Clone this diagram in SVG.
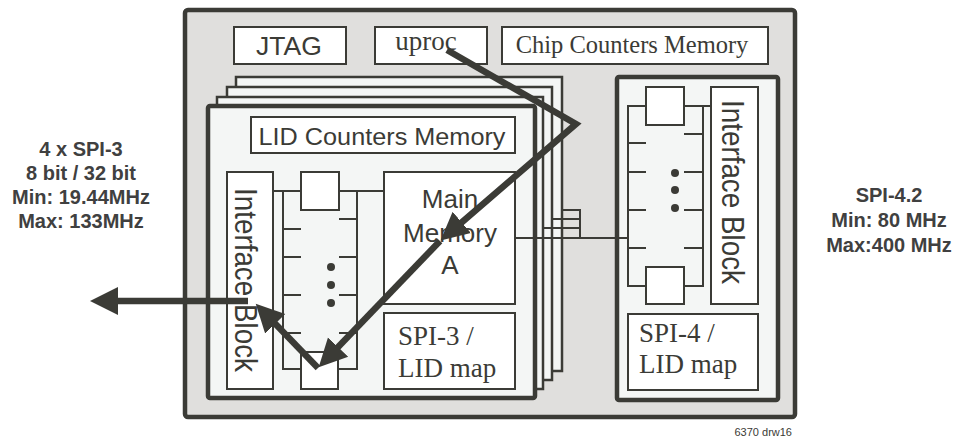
<svg xmlns="http://www.w3.org/2000/svg" width="956" height="438" viewBox="0 0 956 438">
<style>
.ln{fill:none;stroke:#3b3b36;stroke-width:2}
.bx{fill:#ffffff;stroke:#3b3b36;stroke-width:2}
.layer{fill:#f4f6f5;stroke:#3b3b36;stroke-width:2.5}
.thick{fill:#f4f6f5;stroke:#3b3b36;stroke-width:4.5}
.sans{font-family:"Liberation Sans",Arial,sans-serif;fill:#3b3b36}
.serif{font-family:"Liberation Serif","Times New Roman",serif;fill:#3b3b36}
.lbl{font-family:"Liberation Sans",Arial,sans-serif;font-weight:bold;font-size:20px;fill:#404040;text-anchor:middle}
.arr{fill:none;stroke:#3b3b36;stroke-width:6.5;stroke-linejoin:miter;marker-end:url(#ah)}
.dot{fill:#3b3b36}
</style>
<defs>
<marker id="ah" markerUnits="userSpaceOnUse" markerWidth="30" markerHeight="30" viewBox="0 -15 30 30" refX="1" refY="0" orient="auto">
<path d="M0,-14 L28,0 L0,14 z" fill="#3b3b36"/>
</marker>
</defs>
<rect width="956" height="438" fill="#ffffff"/>

<g id="chip">
<rect x="185" y="10" width="610" height="407" rx="3" fill="#e0dfdd" stroke="#3b3b36" stroke-width="4.5"/>
</g>

<g id="jtag">
<rect class="bx" x="234" y="27" width="112" height="37"/>
<text class="sans" x="289" y="55" font-size="26.5" text-anchor="middle">JTAG</text>
</g>
<g id="uproc">
<rect class="bx" x="375" y="27" width="112" height="37"/>
<text class="serif" x="426" y="50" font-size="27" text-anchor="middle">uproc</text>
</g>
<g id="chip-counters">
<rect class="bx" x="502" y="27" width="266" height="37"/>
<text class="serif" x="632" y="53" font-size="24.5" text-anchor="middle">Chip Counters Memory</text>
</g>

<g id="lid-layers-back">
<rect class="layer" x="236" y="77" width="326" height="294"/>
<rect class="layer" x="227" y="87" width="325" height="293"/>
<rect class="layer" x="217" y="97" width="326" height="292"/>
</g>

<g id="lid-block">
<rect class="thick" x="208" y="106" width="327" height="292" rx="2"/>
</g>
<g id="lid-counters">
<rect class="bx" x="251" y="117" width="264" height="36"/>
<text class="sans" x="382" y="145" font-size="24" text-anchor="middle" textLength="247" lengthAdjust="spacingAndGlyphs">LID Counters Memory</text>
</g>
<g id="interface-left">
<rect class="bx" x="227" y="172" width="46" height="217"/>
<text class="sans" font-size="32" text-anchor="middle" textLength="184" lengthAdjust="spacingAndGlyphs" transform="translate(235,280) rotate(90)">Interface Block</text>
</g>
<g id="rails-left">
<path class="ln" d="M273,191 H384 M283,191 V369 H301 M357,191 V369 H338"/>
<path class="ln" d="M283,229 H301 M283,257 H301 M283,295 H301 M283,333 H301 M339,219 H357 M339,257 H357 M339,295 H357 M339,333 H357"/>
<rect class="bx" x="301" y="172" width="38" height="38"/>
<rect class="bx" x="301" y="352" width="37" height="37"/>
<circle class="dot" cx="331" cy="267" r="4"/>
<circle class="dot" cx="331" cy="285" r="4"/>
<circle class="dot" cx="331" cy="303" r="4"/>
</g>
<g id="main-memory">
<rect class="bx" x="384" y="172" width="131" height="132"/>
<text class="sans" x="450" y="208" font-size="26" text-anchor="middle">Main</text>
<text class="sans" x="450" y="242" font-size="26" text-anchor="middle">Memory</text>
<text class="sans" x="450" y="274" font-size="26" text-anchor="middle">A</text>
</g>
<g id="spi3-map">
<rect class="bx" x="384" y="313" width="131" height="76"/>
<text class="serif" x="398" y="345" font-size="27">SPI-3 /</text>
<text class="serif" x="398" y="377" font-size="27">LID map</text>
</g>

<g id="spi4-block">
<rect class="thick" x="617" y="77" width="161" height="323" rx="2"/>
</g>
<g id="interface-right">
<rect class="bx" x="711" y="87" width="47" height="217"/>
<text class="sans" font-size="32" text-anchor="middle" textLength="184" lengthAdjust="spacingAndGlyphs" transform="translate(722,192) rotate(90)">Interface Block</text>
</g>
<g id="rails-right">
<path class="ln" d="M711,106 H628 V286 H646 M703,106 V286 H684"/>
<path class="ln" d="M628,143 H646 M628,172 H646 M628,210 H646 M628,248 H646 M684,134 H703 M684,172 H703 M684,210 H703 M684,248 H703"/>
<rect class="bx" x="646" y="87" width="38" height="38"/>
<rect class="bx" x="646" y="267" width="38" height="37"/>
<circle class="dot" cx="675" cy="173" r="4"/>
<circle class="dot" cx="675" cy="190" r="4"/>
<circle class="dot" cx="675" cy="208" r="4"/>
</g>
<g id="spi4-map">
<rect class="bx" x="628" y="314" width="130" height="76"/>
<text class="serif" x="639" y="342" font-size="27">SPI-4 /</text>
<text class="serif" x="639" y="373" font-size="27">LID map</text>
</g>

<g id="connectors">
<path class="ln" d="M515,238 H628 M544,228 H580 M553,219 H580 M563,210 H580 V238"/>
<polyline class="arr" points="447,50 576,124 461,223"/>
<line class="arr" x1="440" y1="241" x2="337.4" y2="347.8"/>
<line class="arr" x1="318" y1="368" x2="274.5" y2="323.1"/>
<line class="arr" x1="248" y1="301" x2="117" y2="301" stroke-width="7"/>
</g>

<g id="labels">
<text class="lbl" x="81" y="156">4 x SPI-3</text>
<text class="lbl" x="81" y="180">8 bit / 32 bit</text>
<text class="lbl" x="81" y="204">Min: 19.44MHz</text>
<text class="lbl" x="81" y="228">Max: 133MHz</text>
<text class="lbl" x="889" y="202">SPI-4.2</text>
<text class="lbl" x="889" y="227">Min: 80 MHz</text>
<text class="lbl" x="889" y="252">Max:400 MHz</text>
<text class="sans" x="792" y="436" font-size="11" text-anchor="end">6370 drw16</text>
</g>
</svg>
